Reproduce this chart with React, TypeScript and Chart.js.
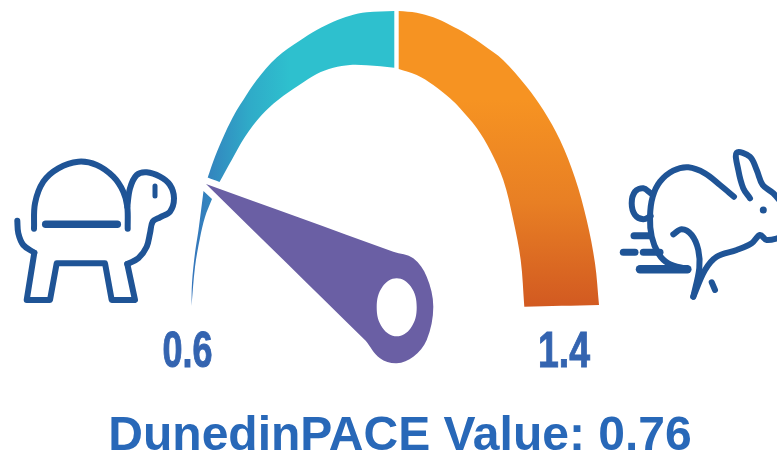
import React, { useEffect, useRef } from "react";
import { Chart, registerables } from "chart.js";

Chart.register(...registerables);

type P = [number, number];

const scaleLabels = ["0.6", "1.4"];
const valueTitle = "DunedinPACE Value: 0.76";

const blueOuter: P[] = [[191.5, 306], [192, 283], [195, 253], [198.5, 230], [203.5, 191]];
const blueInner: P[] = [[191.5, 306], [195, 267], [200, 238], [205, 217], [212, 199]];
const tealOuter: P[] = [[207.7, 177.5], [215, 156.7], [225, 133.3], [235, 113.3], [243.3, 100], [256.7, 80], [276.7, 57.5], [300, 40.5], [316.7, 30], [333.3, 21.7], [350, 15.7], [366.7, 12.3], [394.3, 11]];
const tealInner: P[] = [[219.5, 182], [231.7, 160], [245, 136.7], [261.7, 115], [278, 100], [300, 84.5], [316.7, 74], [333.3, 67.7], [350, 65], [366.7, 65.3], [394.3, 67.7]];
const orangeOuter: P[] = [[398.7, 11], [416.7, 12.7], [433.3, 17.3], [450, 25], [466.7, 34], [483.3, 45], [503, 60], [526.7, 86.7], [543.3, 110], [560, 140], [575, 178], [586.7, 220], [595, 263.3], [599, 305]];
const orangeInner: P[] = [[398.7, 69], [416.7, 75], [433.3, 85], [450, 98.3], [460, 108.3], [476.7, 128], [490, 150], [503.3, 180], [513.3, 220], [520.7, 260], [524.3, 306.7]];

const needleTop: P[] = [[206, 184], [393.3, 251.7]];
const needleHead: P[] = [[393.3, 251.7], [413.3, 258.3], [426.7, 276.7], [433.3, 306.7], [426.7, 340], [413.3, 356.7], [396.7, 363.3], [380, 358.3], [365.7, 340.7]];
const needleHole: P[] = [[382.6, 286.6], [396.7, 278.3], [410.8, 286.6], [416.7, 307.3], [410.8, 328], [396.7, 336.3], [382.6, 328], [376.7, 307.3], [382.6, 286.6], [396.7, 278.3], [410.8, 286.6]];

const turtleShell: P[] = [[34, 228.7], [35, 203.3], [43.3, 181.7], [58.3, 168.3], [78.3, 161.7], [96.7, 165], [113.3, 176.7], [123.3, 191.7], [127.3, 206.7], [127.7, 228.7]];
const turtleBar: P[] = [[45.7, 224.3], [117.3, 224.3]];
const turtleHead: P[] = [[127.3, 206.7], [130, 188.3], [136.7, 175], [146.7, 172.3], [160, 176.7], [170, 185], [174, 198.3], [170, 211.7], [160, 217.3], [152.7, 221.7], [150, 233.3], [146.7, 246.7], [138.3, 258.3], [127.3, 264]];
const turtleLegs: P[] = [[127.3, 264], [135, 300], [111.7, 300], [105, 263.3], [56.7, 263.3], [50, 300], [26.7, 300], [34.3, 252.7]];
const turtleTail: P[] = [[34.3, 252.7], [23.3, 245], [18.3, 233.3], [17.3, 220.7]];
const turtleEye: P[] = [[155, 186], [155, 196]];

const rabbitTail: P[] = [[650.7, 193.3], [643.3, 188.3], [635, 191.7], [631.7, 203.3], [635, 215], [643.3, 219.3], [650.7, 216]];
const rabbitBack: P[] = [[734, 196.7], [720, 185], [705, 173.3], [688.3, 167.3], [673.3, 170.7], [660, 181.7], [652.7, 196.7], [650, 216.7], [651.7, 236.7], [658.3, 253.3], [668.3, 263.3], [687.3, 269.3]];
const rabbitLeg: P[] = [[673.3, 234.3], [681.7, 229.3], [691.7, 235], [698.3, 250], [699.3, 268.3], [693.3, 296.7]];
const rabbitBelly: P[] = [[693.3, 296.7], [705, 270], [716.7, 256.7], [736.7, 250], [751.7, 243.3], [760, 235], [766.7, 240], [781.7, 237.3]];
const rabbitEar: P[] = [[750, 198.3], [743.3, 188.3], [738.3, 170], [736.7, 152.7], [750, 156.7], [756.7, 170], [762.7, 185], [773.3, 193.3], [781.7, 203]];
const rabbitFoot: P[] = [[711.7, 282.3], [715, 290]];
const rabbitEye: P[] = [[763.3, 210], [763.4, 210]];
const speedA: P[] = [[634, 235.7], [650, 235.7]];
const speedB: P[] = [[623.3, 252.3], [635, 252.3]];
const speedC: P[] = [[643.3, 252.3], [660, 252.3]];
const speedD: P[] = [[640, 269.3], [687.3, 269.3]];

const ICON = "#1f5496";

function toXY(points: P[]) {
  return points.map(([x, y]) => ({ x, y }));
}
function dup(p: P): P[] {
  return [p, p];
}
function band(outer: P[], inner: P[]): P[] {
  const rev = [...inner].reverse();
  return [
    ...dup(outer[0]), ...outer.slice(1, -1), ...dup(outer[outer.length - 1]),
    ...dup(rev[0]), ...rev.slice(1, -1), ...dup(rev[rev.length - 1]),
    ...dup(outer[0]),
  ];
}

function shape(points: P[], backgroundColor: any, tension = 0.35) {
  return { data: toXY(points), showLine: true, fill: "shape", backgroundColor, borderWidth: 0, pointRadius: 0, tension };
}
function stroke(points: P[], width = 6, tension = 0.35) {
  return {
    data: toXY(points), showLine: true, fill: false, borderColor: ICON, borderWidth: width,
    borderCapStyle: "round", borderJoinStyle: "round", pointRadius: 0, tension,
  };
}

const textPlugin = {
  id: "gaugeText",
  afterDatasetsDraw(chart: any) {
    const { ctx, scales } = chart;
    const X = scales.x, Y = scales.y;
    ctx.save();
    ctx.textAlign = "center";
    ctx.textBaseline = "alphabetic";
    ctx.fillStyle = "#3464b0";
    ctx.strokeStyle = "#3464b0";
    ctx.lineWidth = 1;
    ctx.font = 'bold 50px "Liberation Sans"';
    ctx.fillText(scaleLabels[0], X.getPixelForValue(187.5), Y.getPixelForValue(367), 50);
    ctx.strokeText(scaleLabels[0], X.getPixelForValue(187.5), Y.getPixelForValue(367), 50);
    ctx.fillText(scaleLabels[1], X.getPixelForValue(564), Y.getPixelForValue(367), 52);
    ctx.strokeText(scaleLabels[1], X.getPixelForValue(564), Y.getPixelForValue(367), 52);
    ctx.fillStyle = "#2868b8";
    ctx.font = 'bold 48px "Liberation Sans"';
    ctx.fillText(valueTitle, X.getPixelForValue(400), Y.getPixelForValue(449.5), 586);
    ctx.restore();
  },
};

export default function App() {
  const ref = useRef<HTMLCanvasElement>(null);
  useEffect(() => {
    document.body.style.margin = "0";
    const canvas = ref.current!;
    const g = canvas.getContext("2d")!;
    const cool = g.createLinearGradient(190, 0, 290, 0);
    cool.addColorStop(0, "#3573ba");
    cool.addColorStop(0.6, "#2fabc8");
    cool.addColorStop(1, "#2ec0ce");
    const warm = g.createLinearGradient(0, 100, 0, 306);
    warm.addColorStop(0, "#f69322");
    warm.addColorStop(0.5, "#e87f24");
    warm.addColorStop(1, "#d25a21");
    const needle: P[] = [...dup(needleTop[0]), ...dup(needleTop[1]), ...needleHead.slice(1, -1), ...dup(needleHead[needleHead.length - 1]), ...dup(needleTop[0])];

    const chart = new Chart(canvas, {
      type: "scatter",
      data: {
        datasets: [
          shape(needleHole, "#ffffff", 0.4),
          shape(needle, "#6a5fa4"),
          shape(band(blueOuter, blueInner), cool),
          shape(band(tealOuter, tealInner), cool),
          shape(band(orangeOuter, orangeInner), warm),
          stroke(turtleShell),
          stroke(turtleBar, 7.5, 0),
          stroke(turtleHead),
          stroke(turtleLegs, 6, 0),
          stroke(turtleTail),
          stroke(turtleEye, 5, 0),
          stroke(rabbitTail),
          stroke(rabbitBack),
          stroke(rabbitLeg),
          stroke(rabbitBelly),
          stroke(rabbitEar),
          stroke(rabbitFoot, 6, 0),
          stroke(rabbitEye, 7, 0),
          stroke(speedA, 7, 0),
          stroke(speedB, 7, 0),
          stroke(speedC, 7, 0),
          stroke(speedD, 8.5, 0),
        ] as any,
      },
      options: {
        responsive: false,
        animation: false,
        layout: { padding: 0 },
        plugins: { legend: { display: false }, tooltip: { enabled: false } },
        scales: {
          x: { type: "linear", min: 0, max: 777, display: false },
          y: { type: "linear", min: 0, max: 455, reverse: true, display: false },
        },
      },
      plugins: [textPlugin],
    });
    return () => chart.destroy();
  }, []);
  return (
    <div style={{ position: "absolute", left: 0, top: 0, width: 777, height: 455 }}>
      <canvas ref={ref} width={777} height={455} style={{ display: "block" }} />
    </div>
  );
}
